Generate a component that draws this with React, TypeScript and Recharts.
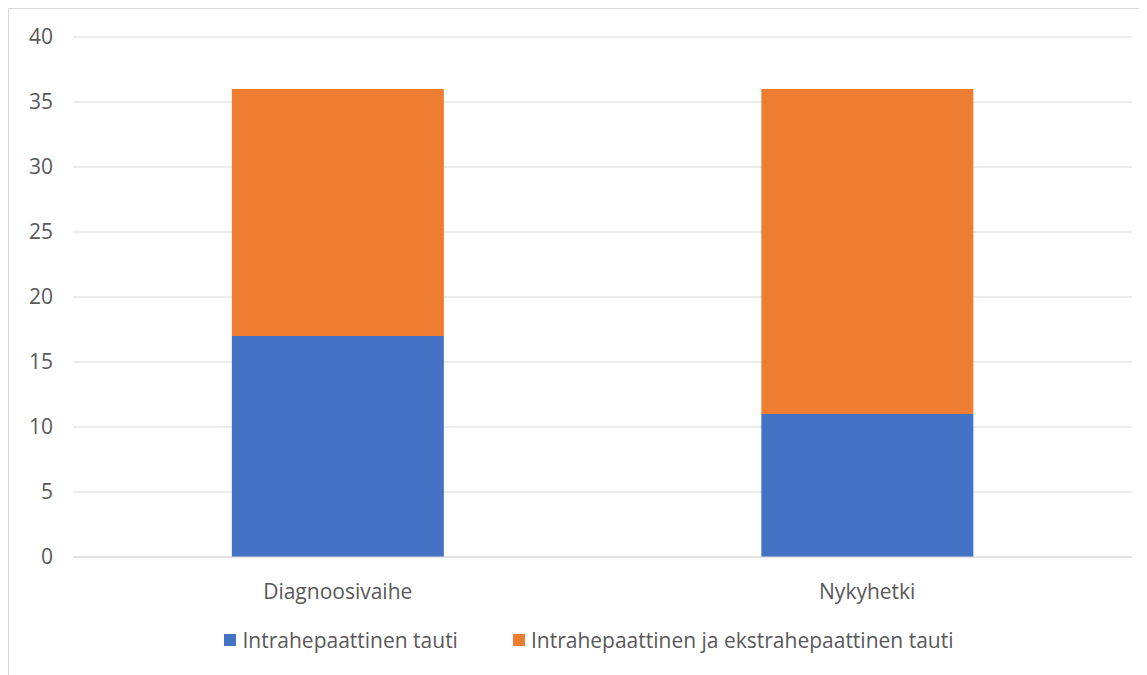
import { BarChart, Bar, XAxis, YAxis, CartesianGrid, Legend } from "recharts"

const categories = ["Diagnoosivaihe", "Nykyhetki"]
const intraValues = [17, 11]
const extraValues = [19, 25]
const yTicks = [0, 5, 10, 15, 20, 25, 30, 35, 40]

const seriesNames = ["Intrahepaattinen tauti", "Intrahepaattinen ja ekstrahepaattinen tauti"]
const seriesColors = ["#4472C4", "#ED7D31"]

const FONT = "'Open Sans', sans-serif"
const TEXT = "#595959"

const data = categories.map((name, i) => ({
  name,
  intra: intraValues[i],
  extra: extraValues[i],
}))

function ChartLegend() {
  return (
    <div style={{ display: "flex", justifyContent: "center", alignItems: "center", gap: 55, paddingLeft: 22 }}>
      {seriesNames.map((n, i) => (
        <div key={n} style={{ display: "flex", alignItems: "center" }}>
          <span style={{ width: 12, height: 12, background: seriesColors[i], marginRight: 6 }} />
          <span style={{ fontFamily: FONT, fontSize: 21, color: TEXT }}>{n}</span>
        </div>
      ))}
    </div>
  )
}

export default function App() {
  return (
    <div
      style={{
        width: 1138,
        height: 666,
        borderLeft: "1px solid #d9d9d9",
        borderTop: "1px solid #d9d9d9",
        background: "#fff",
      }}
    >
      <BarChart
        width={1138}
        height={666}
        data={data}
        barCategoryGap="30%"
        margin={{ top: 28, right: 15, left: 0, bottom: 78 }}
      >
        <CartesianGrid stroke="#d9d9d9" vertical={false} />
        <XAxis
          dataKey="name"
          axisLine={{ stroke: "#d9d9d9" }}
          tickLine={false}
          height={40}
          tickMargin={21}
          tick={{ fontFamily: FONT, fontSize: 21, fill: TEXT }}
        />
        <YAxis
          domain={[0, 40]}
          ticks={yTicks}
          width={64}
          axisLine={false}
          tickLine={false}
          tickMargin={14}
          tick={{ fontFamily: FONT, fontSize: 21, fill: TEXT }}
        />
        <Legend
          verticalAlign="middle"
          content={() => <ChartLegend />}
          wrapperStyle={{ top: 617, left: 0, width: 1138 }}
        />
        <Bar dataKey="intra" name={seriesNames[0]} stackId="a" fill={seriesColors[0]} isAnimationActive={false} />
        <Bar dataKey="extra" name={seriesNames[1]} stackId="a" fill={seriesColors[1]} isAnimationActive={false} />
      </BarChart>
    </div>
  )
}
